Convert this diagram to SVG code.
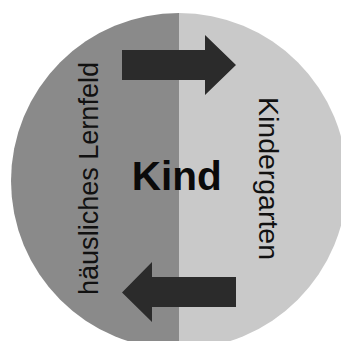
<svg xmlns="http://www.w3.org/2000/svg" width="341" height="341" viewBox="0 0 341 341">
  <style>
    .lbl { font-family: "Liberation Sans", Arial, sans-serif; font-size: 27px; fill: #111; }
    .kind { font-family: "Liberation Sans", Arial, sans-serif; font-size: 41px; font-weight: bold; fill: #0a0a0a; }
    .arrow { fill: #2b2b2b; }
  </style>
  <defs>
    <clipPath id="circ">
      <circle cx="179" cy="181" r="168"/>
    </clipPath>
  </defs>
  <rect x="0" y="0" width="341" height="341" fill="#ffffff"/>
  <g id="haeusliches-lernfeld">
    <rect x="0" y="0" width="179" height="341" fill="#8a8a8a" clip-path="url(#circ)"/>
    <text class="lbl" transform="translate(98,178.5) rotate(-90)" text-anchor="middle" textLength="233" lengthAdjust="spacingAndGlyphs">häusliches Lernfeld</text>
  </g>
  <g id="kindergarten">
    <rect x="179" y="0" width="162" height="341" fill="#c9c9c9" clip-path="url(#circ)"/>
    <text class="lbl" transform="translate(259,178.5) rotate(90)" text-anchor="middle" textLength="163" lengthAdjust="spacingAndGlyphs">Kindergarten</text>
  </g>
  <g id="kind">
    <text class="kind" x="176.7" y="190" text-anchor="middle" textLength="90" lengthAdjust="spacingAndGlyphs">Kind</text>
  </g>
  <g id="connectors">
    <polygon class="arrow" points="122,50 205,50 205,35 236,65 205,95 205,80 122,80"/>
    <polygon class="arrow" points="236,277 152,277 152,262 122,292.5 152,322 152,307 236,307"/>
  </g>
</svg>
